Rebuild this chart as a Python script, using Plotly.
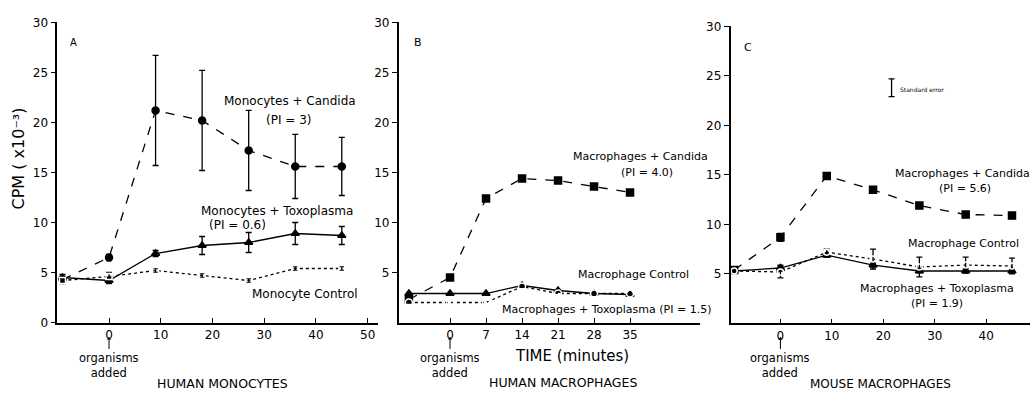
import plotly.graph_objects as go

# ---------------- data ----------------
t_A = [-9, 0, 9, 18, 27, 36, 45]
t_B = [-8, 0, 7, 14, 21, 28, 35]
t_C = [-9, 0, 9, 18, 27, 36, 45]

A_candida = [4.3, 6.5, 21.2, 20.2, 17.2, 15.6, 15.6]
A_candida_err = [0.3, 0.3, 5.5, 5.0, 4.0, 3.2, 2.9]
A_toxo = [4.5, 4.2, 6.9, 7.7, 8.0, 8.9, 8.7]
A_toxo_err = [0.3, 0.3, 0.3, 0.9, 1.0, 1.1, 0.9]
A_control = [4.2, 4.6, 5.2, 4.7, 4.2, 5.4, 5.4]
A_control_err = [0.3, 0.4, 0.2, 0.2, 0.2, 0.2, 0.2]

B_candida = [2.3, 4.5, 12.4, 14.4, 14.2, 13.6, 13.0]
B_toxo = [2.9, 2.9, 2.9, 3.7, 3.2, 2.9, 2.8]
B_control = [2.0, 2.0, 2.0, 3.6, 2.9, 2.9, 2.9]

C_candida = [5.4, 8.7, 14.9, 13.5, 11.9, 11.0, 10.9]
C_candida_err = [0.3, 0.4, 0.2, 0.2, 0.2, 0.3, 0.3]
C_toxo = [5.3, 5.6, 6.9, 5.9, 5.3, 5.3, 5.3]
C_toxo_err = [0.2, 0.3, 0.2, 0.2, 0.2, 0.2, 0.2]
C_control = [5.3, 5.2, 7.2, 6.5, 5.7, 5.9, 5.8]
C_control_err = [0.2, 0.6, 0.3, 1.0, 1.0, 0.8, 0.8]

se_x = [21.6]
se_y = [23.8]
se_err = [0.9]

y_ticks_A = [0, 5, 10, 15, 20, 25, 30]
y_ticks_BC = [5, 10, 15, 20, 25, 30]
x_ticks_A = [0, 10, 20, 30, 40, 50]
x_ticks_B = [0, 7, 14, 21, 28, 35]
x_ticks_C = [0, 10, 20, 30, 40]

FONT = "DejaVu Sans"
W, H = 1030, 399

fig = go.Figure()


def add(x, y, dash, symbol, size, xa, ya, err=None, fill=True):
    fig.add_trace(go.Scatter(
        x=x, y=y, mode="lines+markers", xaxis=xa, yaxis=ya,
        line=dict(color="black", width=1.3, dash=dash),
        marker=dict(symbol=symbol if fill else symbol + "-open", size=size,
                    color="black" if fill else "white",
                    line=dict(color="black", width=1.5)),
        error_y=dict(type="data", array=err, visible=err is not None,
                     color="black", thickness=1.3, width=3),
        showlegend=False, hoverinfo="skip"))


# Panel A
add(t_A, A_candida, "dash", "circle", 7, "x", "y", A_candida_err)
add(t_A, A_toxo, "solid", "triangle-up", 7, "x", "y", A_toxo_err)
add(t_A, A_control, "dot", "square", 6, "x", "y", A_control_err, fill=False)
# Panel B
add(t_B, B_candida, "dash", "square", 7, "x2", "y2")
add(t_B, B_toxo, "solid", "triangle-up", 7, "x2", "y2")
add(t_B, B_control, "dot", "circle", 7, "x2", "y2", fill=False)
# Panel C
add(t_C, C_candida, "dash", "square", 7, "x3", "y3", C_candida_err)
add(t_C, C_toxo, "solid", "triangle-up", 7, "x3", "y3", C_toxo_err)
add(t_C, C_control, "dot", "circle", 6, "x3", "y3", C_control_err, fill=False)
# standard error key
fig.add_trace(go.Scatter(x=se_x, y=se_y, mode="markers", xaxis="x3", yaxis="y3",
                         marker=dict(size=1, color="black"),
                         error_y=dict(type="data", array=se_err, color="black",
                                      thickness=1.3, width=3),
                         showlegend=False, hoverinfo="skip"))


def px(v):
    return v / W


def py(v):
    return 1 - v / H


axis_common = dict(showline=True, linecolor="black", linewidth=1.5, showgrid=False,
                   zeroline=False, tickfont=dict(family=FONT, size=12, color="black"),
                   tickcolor="black", tickwidth=1.3)

xa = dict(axis_common, ticks="inside", ticklen=5)
ya = dict(axis_common, ticks="outside", ticklen=5, range=[0, 30])

fig.update_layout(
    width=W, height=H, margin=dict(l=0, r=0, t=0, b=0),
    paper_bgcolor="white", plot_bgcolor="white",
    font=dict(family=FONT, color="black"),
    xaxis=dict(xa, domain=[px(57.3), px(378)], range=[-10, 52], tickvals=x_ticks_A, anchor="y"),
    yaxis=dict(ya, domain=[py(327), py(16)], tickvals=y_ticks_A, anchor="x"),
    xaxis2=dict(xa, domain=[px(398.6), px(700)], range=[-10, 48.6], tickvals=x_ticks_B, anchor="y2"),
    yaxis2=dict(ya, domain=[py(327), py(16)], tickvals=y_ticks_BC, anchor="x2"),
    xaxis3=dict(xa, domain=[px(730.5), px(1030)], range=[-9.7, 48.5], tickvals=x_ticks_C, anchor="y3"),
    yaxis3=dict(ya, domain=[py(328), py(20)], tickvals=y_ticks_BC, anchor="x3"),
)

ann = []


def text(x, y, s, size=11, **kw):
    ann.append(dict(x=px(x), y=py(y), xref="paper", yref="paper", text=s, showarrow=False,
                    font=dict(family=FONT, size=size, color="black"),
                    xanchor="center", yanchor="middle", **kw))


text(73, 37, "A", 10)
text(418, 37, "B", 11)
text(748, 42, "C", 11)

text(290, 97, "Monocytes + Candida", 12)
text(288, 117, "(PI = 3)", 12)
text(277, 211, "Monocytes + Toxoplasma", 12)
text(237, 226, "(PI = 0.6)", 12)
text(305, 297, "Monocyte Control", 12)

text(640, 155, "Macrophages + Candida")
text(647, 171, "(PI = 4.0)")
text(633, 277, "Macrophage Control")
text(606, 313, "Macrophages + Toxoplasma (PI = 1.5)")

text(962, 173, "Macrophages + Candida")
text(965, 188, "(PI = 5.6)")
text(963, 245, "Macrophage Control")
text(937, 292, "Macrophages + Toxoplasma")
text(937, 307, "(PI = 1.9)")
text(922, 85, "Standard error", 6)

text(222, 390, "HUMAN MONOCYTES", 12.5)
text(563, 389, "HUMAN MACROPHAGES", 12.5)
text(880, 391, "MOUSE MACROPHAGES", 12)
text(572, 362, "TIME (minutes)", 15)

ann.append(dict(x=px(18), y=py(157), xref="paper", yref="paper",
                text="CPM ( x10⁻³)", showarrow=False, textangle=-90,
                font=dict(family=FONT, size=16, color="black"),
                xanchor="center", yanchor="middle"))

for xr in ("x", "x2", "x3"):
    ann.append(dict(x=0, y=py(342), xref=xr, yref="paper", text="organisms<br>added",
                    showarrow=True, arrowhead=1, arrowsize=0.8, arrowwidth=1,
                    arrowcolor="black", ax=0, ay=28,
                    font=dict(family=FONT, size=11.5, color="black")))

fig.update_layout(annotations=ann)
fig.write_html("out.html")
